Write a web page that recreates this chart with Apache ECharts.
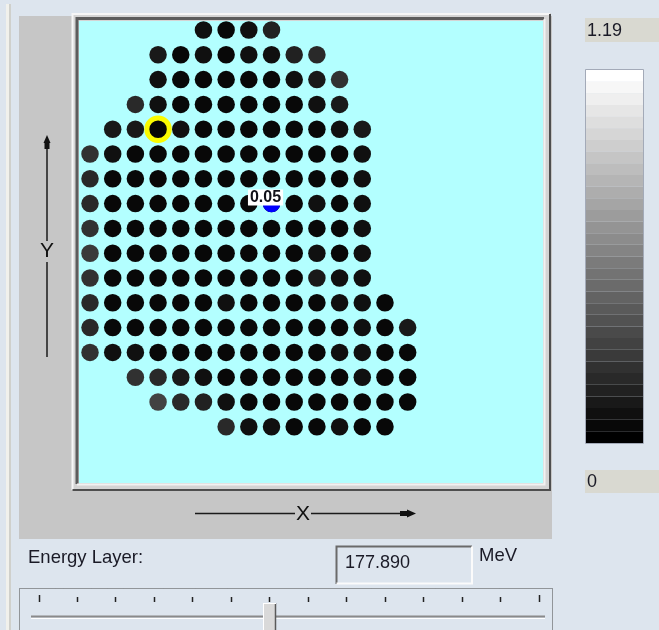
<!DOCTYPE html>
<html>
<head>
<meta charset="utf-8">
<script src="https://cdn.jsdelivr.net/npm/echarts@6/dist/echarts.min.js"></script>
<style>
  html, body { margin: 0; padding: 0; background: #dde5ee; }
  #chart { width: 659px; height: 630px; }
</style>
</head>
<body>
<div id="chart"></div>
<script>
// Spot map of one energy layer: every row of the scan grid starts at a
// given column; each entry is the relative weight of one spot.
const rowStartCol = [5, 3, 3, 2, 1, 0, 0, 0, 0, 0, 0, 0, 0, 0, 2, 3, 6];
const spotWeights = [
  [0.11, 0.06, 0.08, 0.16],
  [0.12, 0.05, 0.08, 0.07, 0.08, 0.11, 0.15, 0.19],
  [0.09, 0.05, 0.06, 0.07, 0.06, 0.06, 0.09, 0.12, 0.25],
  [0.19, 0.08, 0.06, 0.05, 0.05, 0.05, 0.05, 0.06, 0.09, 0.14],
  [0.14, 0.12, 0.04, 0.08, 0.05, 0.05, 0.05, 0.06, 0.06, 0.04, 0.08, 0.14],
  [0.24, 0.09, 0.07, 0.05, 0.05, 0.04, 0.04, 0.04, 0.04, 0.05, 0.04, 0.05, 0.08],
  [0.22, 0.07, 0.06, 0.05, 0.05, 0.04, 0.04, 0.05, 0.05, 0.05, 0.05, 0.06, 0.09],
  [0.20, 0.06, 0.05, 0.05, 0.04, 0.05, 0.04, 0.05, 0.05, 0.06, 0.08, 0.06, 0.09],
  [0.24, 0.05, 0.06, 0.06, 0.05, 0.05, 0.04, 0.05, 0.05, 0.06, 0.07, 0.06, 0.08],
  [0.28, 0.04, 0.06, 0.07, 0.05, 0.05, 0.05, 0.05, 0.05, 0.06, 0.09, 0.06, 0.08],
  [0.24, 0.04, 0.07, 0.06, 0.06, 0.05, 0.05, 0.06, 0.05, 0.06, 0.12, 0.09, 0.11],
  [0.20, 0.05, 0.05, 0.06, 0.05, 0.06, 0.09, 0.06, 0.06, 0.06, 0.07, 0.09, 0.09, 0.05],
  [0.21, 0.07, 0.05, 0.06, 0.05, 0.06, 0.07, 0.06, 0.07, 0.06, 0.06, 0.07, 0.08, 0.04, 0.12],
  [0.24, 0.11, 0.09, 0.07, 0.06, 0.05, 0.05, 0.06, 0.06, 0.07, 0.07, 0.08, 0.08, 0.05, 0.05],
  [0.26, 0.19, 0.13, 0.09, 0.07, 0.06, 0.06, 0.05, 0.07, 0.07, 0.08, 0.06, 0.05],
  [0.30, 0.19, 0.15, 0.08, 0.07, 0.06, 0.05, 0.06, 0.07, 0.07, 0.06, 0.05],
  [0.22, 0.11, 0.08, 0.07, 0.07, 0.08, 0.07, 0.06]
];
const selectedSpot = { row: 4, col: 3 };   // ringed in yellow
const probedSpot = { row: 7, col: 8 };     // shown in blue with its value
const colorMin = 0;
const colorMax = 1.19;
const energyLayerMeV = '177.890';
const energyLabel = 'Energy Layer:';
const energyUnit = 'MeV';
const axisNames = { x: 'X', y: 'Y' };

// [column, row, weight] triples for the scatter series
const weightAt = (r, c) => spotWeights[r][c - rowStartCol[r]];
const spots = [];
spotWeights.forEach((row, r) => {
  row.forEach((w, i) => spots.push([rowStartCol[r] + i, r, w]));
});

const FONT = "'Liberation Sans', Arial, sans-serif";
const txt = (x, y, text, extra) => ({
  type: 'text', x, y, z: 10,
  style: Object.assign({
    text, fill: '#1a1a26', fontSize: 18, fontFamily: FONT,
    align: 'left', verticalAlign: 'middle',
    textAlign: 'left', textVerticalAlign: 'middle'
  }, extra || {})
});
const line = (x1, y1, x2, y2, stroke, lineWidth, z) => ({
  type: 'line', z: z || 1, shape: { x1, y1, x2, y2 },
  style: { stroke, lineWidth }
});
const poly = (points, stroke, lineWidth) => ({
  type: 'polyline', z: 1, shape: { points },
  style: { stroke, lineWidth, fill: null }
});

// window chrome around the plot
const graphics = [
  { type: 'rect', z: 0, shape: { x: 6, y: 4, width: 3, height: 626 }, style: { fill: '#f1f1ec' } },
  { type: 'rect', z: 0, shape: { x: 9, y: 4, width: 2, height: 626 }, style: { fill: '#cfd0cc' } },
  { type: 'rect', z: 0, shape: { x: 19, y: 16, width: 533, height: 523 }, style: { fill: '#c6c6c6' } },
  { type: 'rect', z: 0, shape: { x: 72, y: 13, width: 479, height: 478 }, style: { fill: '#d4d4d4' } },
  { type: 'rect', z: 0, shape: { x: 79, y: 21, width: 464, height: 462 }, style: { fill: '#b3ffff' } },
  poly([[72.5, 490], [72.5, 14], [550, 14]], '#f6f6f6', 2),
  poly([[550, 14], [550, 490], [72.5, 490]], '#4e4e4e', 2),
  poly([[77, 484], [77, 18.5], [544, 18.5]], '#5c5c5c', 3),
  poly([[544.5, 19], [544.5, 484.5], [77, 484.5]], '#f2f2f2', 2),

  // Y direction arrow
  line(47, 148, 47, 241, '#1a1a1a', 1.5),
  line(47, 262, 47, 357, '#1a1a1a', 1.5),
  { type: 'polygon', z: 1, shape: { points: [[47, 135], [50.5, 143], [43.5, 143]] }, style: { fill: '#111' } },
  { type: 'rect', z: 1, shape: { x: 44.5, y: 142, width: 5, height: 7 }, style: { fill: '#111' } },
  txt(47, 251, axisNames.y, { fontSize: 21, align: 'center', textAlign: 'center', fill: '#111' }),

  // X direction arrow
  line(195, 513.5, 295, 513.5, '#1a1a1a', 1.5),
  line(311, 513.5, 402, 513.5, '#1a1a1a', 1.5),
  { type: 'rect', z: 1, shape: { x: 400, y: 511, width: 8, height: 5 }, style: { fill: '#111' } },
  { type: 'polygon', z: 1, shape: { points: [[407, 509.5], [416, 513.5], [407, 517.5]] }, style: { fill: '#111' } },
  txt(303, 514, axisNames.x, { fontSize: 21, align: 'center', textAlign: 'center', fill: '#111' }),

  // colour scale end values
  { type: 'rect', z: 1, shape: { x: 585, y: 18, width: 74, height: 24 }, style: { fill: '#d9d9d1' } },
  txt(587, 31, String(colorMax)),
  { type: 'rect', z: 1, shape: { x: 585, y: 470, width: 74, height: 23 }, style: { fill: '#d9d9d1' } },
  txt(587, 482, String(colorMin)),
  { type: 'rect', z: 20, shape: { x: 585.5, y: 69.5, width: 58, height: 374 }, style: { fill: null, stroke: '#a3aab8', lineWidth: 1 } },

  // energy layer read-out
  txt(28, 558, energyLabel, { fontSize: 18.5 }),
  { type: 'rect', z: 1, shape: { x: 336, y: 546, width: 136, height: 38 }, style: { fill: '#dde5ee' } },
  poly([[336.5, 584], [336.5, 546.5], [472, 546.5]], '#6a6a6a', 2),
  poly([[472, 546.5], [472, 583.5], [336.5, 583.5]], '#fbfbfb', 2),
  txt(345, 563, energyLayerMeV),
  txt(479, 556, energyUnit, { fontSize: 18.5 }),

  // layer slider
  { type: 'rect', z: 1, shape: { x: 19.5, y: 588.5, width: 533, height: 60 }, style: { fill: null, stroke: '#444', lineWidth: 1, lineDash: [1, 1] } },
  line(31, 616.5, 545, 616.5, '#8a8a8a', 2),
  line(31, 618.5, 545, 618.5, '#ffffff', 1),
  { type: 'rect', z: 2, shape: { x: 263, y: 603, width: 13, height: 30 }, style: { fill: '#d9d9d9' } },
  line(263.5, 603, 263.5, 630, '#ffffff', 1, 3),
  line(275.5, 603, 275.5, 630, '#5a5a5a', 1.5, 3),
  line(263, 603.5, 276, 603.5, '#ffffff', 1, 3)
];
const tickCount = 14;
for (let i = 0; i < tickCount; i++) {
  const x = Math.round(38.5 + i * (500 / (tickCount - 1))) + 0.5;
  const end = i === 0 || i === tickCount - 1;
  graphics.push(line(x, end ? 595 : 597, x, 602, '#222', 1.5));
}

const chart = echarts.init(document.getElementById('chart'), null, { renderer: 'canvas' });
chart.setOption({
  backgroundColor: '#dde5ee',
  animation: false,
  grid: { left: 79, top: 21, width: 464, height: 462, containLabel: false },
  xAxis: { type: 'value', min: -0.485, max: 19.965, show: false },
  yAxis: { type: 'value', min: -0.363, max: 18.266, inverse: true, show: false },
  visualMap: {
    type: 'piecewise',
    seriesIndex: 0,
    dimension: 2,
    min: colorMin,
    max: colorMax,
    splitNumber: 32,
    orient: 'vertical',
    left: 586,
    top: 70,
    padding: 0,
    itemWidth: 57,
    itemHeight: 373 / 32,
    itemGap: 0,
    itemSymbol: 'rect',
    showLabel: false,
    selectedMode: false,
    hoverLink: false,
    inRange: { color: ['#000000', '#ffffff'] }
  },
  graphic: { elements: graphics },
  series: [
    {
      name: 'spots',
      type: 'scatter',
      symbol: 'circle',
      symbolSize: 17.5,
      data: spots,
      itemStyle: { opacity: 1 },
      emphasis: { disabled: true },
      z: 3
    },
    {
      name: 'selected',
      type: 'scatter',
      symbol: 'circle',
      symbolSize: 22.5,
      data: [[selectedSpot.col, selectedSpot.row, weightAt(selectedSpot.row, selectedSpot.col)]],
      itemStyle: { color: '#060606', borderColor: '#fafa00', borderWidth: 5, opacity: 1 },
      emphasis: { disabled: true },
      z: 4
    },
    {
      name: 'probe',
      type: 'scatter',
      symbol: 'circle',
      symbolSize: 17.5,
      data: [[probedSpot.col, probedSpot.row, weightAt(probedSpot.row, probedSpot.col)]],
      itemStyle: { color: '#0000ff', opacity: 1 },
      label: {
        show: true,
        position: 'inside',
        offset: [-6, -6],
        formatter: p => p.value[2].toFixed(2),
        backgroundColor: '#ffffff',
        padding: [0, 2],
        color: '#101018',
        fontFamily: FONT,
        fontWeight: 'bold',
        fontSize: 16,
        lineHeight: 16
      },
      emphasis: { disabled: true },
      z: 5
    }
  ]
});
</script>
</body>
</html>
